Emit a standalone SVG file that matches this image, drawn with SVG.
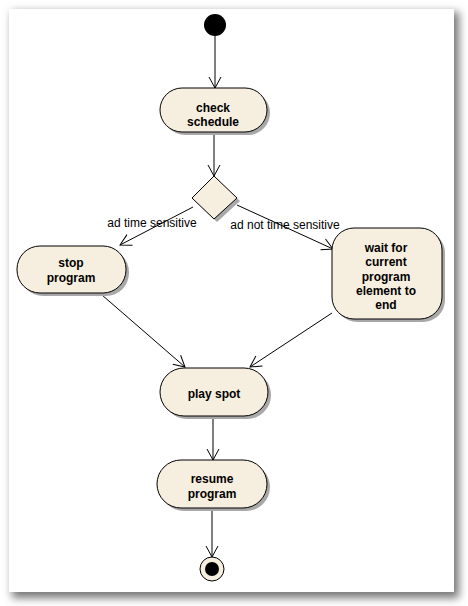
<svg xmlns="http://www.w3.org/2000/svg" width="468" height="606" viewBox="0 0 468 606">
<style>
.node{fill:#f6eedf;stroke:#000;stroke-width:1}
.sh{fill:#a8a8a8}
.t{font-family:"Liberation Sans",Arial,sans-serif;font-size:12px;font-weight:bold;text-anchor:middle;fill:#000}
.lbl{font-family:"Liberation Sans",Arial,sans-serif;font-size:12px;text-anchor:middle;fill:#000}
.edge{stroke:#000;stroke-width:1;fill:none;marker-end:url(#arr)}
</style>
<defs>
<filter id="blur" x="-10%" y="-10%" width="120%" height="120%"><feGaussianBlur stdDeviation="4"/></filter>
<marker id="arr" viewBox="-12 -7 14 14" refX="0" refY="0" markerWidth="14" markerHeight="14" markerUnits="userSpaceOnUse" orient="auto">
<path d="M-11,-6 L0,0 L-11,6" fill="none" stroke="#000" stroke-width="1"/>
</marker>
</defs>
<rect x="0" y="0" width="468" height="606" fill="#fff"/>
<rect x="12" y="12" width="447" height="586" fill="#777" filter="url(#blur)"/>
<rect x="9" y="9" width="445" height="583" fill="#fff"/>

<g id="connectors">
<line class="edge" x1="215" y1="36" x2="215" y2="88"/>
<line class="edge" x1="214" y1="132" x2="214" y2="176"/>
<line class="edge" x1="193" y1="207" x2="120" y2="245"/>
<line class="edge" x1="237" y1="205" x2="333" y2="249"/>
<line class="edge" x1="102" y1="295" x2="185" y2="367"/>
<line class="edge" x1="332" y1="313" x2="250" y2="367"/>
<line class="edge" x1="213" y1="417" x2="213" y2="460"/>
<line class="edge" x1="212" y1="508" x2="212" y2="557"/>
<text class="lbl" x="152" y="227">ad time sensitive</text>
<text class="lbl" x="285" y="229">ad not time sensitive</text>
</g>

<g id="start"><circle cx="215" cy="25" r="11" fill="#000"/></g>

<g id="check_schedule">
<rect class="sh" x="163" y="91" width="107" height="44" rx="22"/>
<rect class="node" x="160" y="88" width="107" height="44" rx="22"/>
<text class="t" x="213" y="112">check</text>
<text class="t" x="213" y="126">schedule</text>
</g>

<g id="decision">
<polygon class="sh" points="217,179 240,201 217,222 195,201"/>
<polygon class="node" points="214,176 237,198 214,219 192,198"/>
</g>

<g id="stop_program">
<rect class="sh" x="20" y="249" width="109" height="47" rx="23"/>
<rect class="node" x="17" y="246" width="109" height="47" rx="23"/>
<text class="t" x="71" y="267">stop</text>
<text class="t" x="71" y="282">program</text>
</g>

<g id="wait">
<rect class="sh" x="335" y="231" width="110" height="91" rx="22"/>
<rect class="node" x="332" y="228" width="110" height="91" rx="22"/>
<text class="t" x="386" y="252">wait for</text>
<text class="t" x="386" y="266">current</text>
<text class="t" x="386" y="281">program</text>
<text class="t" x="386" y="295">element to</text>
<text class="t" x="386" y="309">end</text>
</g>

<g id="play_spot">
<rect class="sh" x="163" y="371" width="108" height="48" rx="24"/>
<rect class="node" x="160" y="368" width="108" height="48" rx="24"/>
<text class="t" x="214" y="398">play spot</text>
</g>

<g id="resume_program">
<rect class="sh" x="160" y="463" width="110" height="48" rx="24"/>
<rect class="node" x="157" y="460" width="110" height="48" rx="24"/>
<text class="t" x="212" y="483">resume</text>
<text class="t" x="212" y="498">program</text>
</g>

<g id="end">
<circle cx="212" cy="569" r="12" fill="#f6eedf" stroke="#000" stroke-width="1"/>
<circle cx="212" cy="569" r="7" fill="#000"/>
</g>
</svg>
